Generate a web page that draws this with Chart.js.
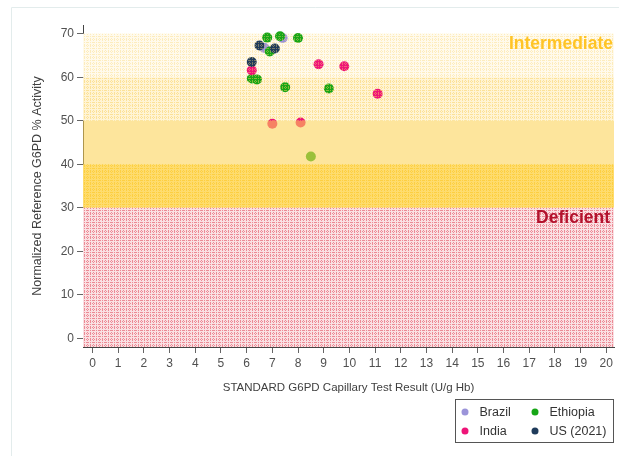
<!DOCTYPE html>
<html>
<head>
<meta charset="utf-8">
<script src="https://cdn.jsdelivr.net/npm/chart.js@4.4.1/dist/chart.umd.min.js"></script>
<style>
  html, body { margin: 0; padding: 0; background: #fff; }
  #wrap { width: 619px; height: 456px; }
</style>
</head>
<body>
<div id="wrap"><canvas id="g6pd" width="619" height="456"></canvas></div>
<script>
// values
const brazilX = [6.7, 7.4];
const brazilY = [66.7, 69.0];
const ethiopiaX = [6.8, 7.3, 8.0, 6.9, 6.2, 6.4, 7.5, 9.2, 8.5];
const ethiopiaY = [69.1, 69.4, 69.0, 65.9, 59.7, 59.5, 57.7, 57.4, 41.8];
const indiaX = [6.2, 8.8, 9.8, 11.1, 7.0, 8.1];
const indiaY = [61.6, 63.0, 62.5, 56.2, 49.3, 49.6];
const usX = [6.5, 7.1, 6.2];
const usY = [67.3, 66.6, 63.5];

const xTicks = [0, 1, 2, 3, 4, 5, 6, 7, 8, 9, 10, 11, 12, 13, 14, 15, 16, 17, 18, 19, 20];
const yTicks = [0, 10, 20, 30, 40, 50, 60, 70];

const pts = (xs, ys) => xs.map((x, i) => ({ x: x, y: ys[i] }));

const ctx = document.getElementById('g6pd').getContext('2d');

// small dot textures for the shaded bands
function dots(color, size, test) {
	const c = document.createElement('canvas');
	c.width = size; c.height = size;
	const g = c.getContext('2d');
	g.fillStyle = color;
	for (let y = 0; y < size; y++) {
		for (let x = 0; x < size; x++) {
			if (test(x, y)) g.fillRect(x, y, 1, 1);
		}
	}
	return ctx.createPattern(c, 'repeat');
}
const grid = (x, y) => (y % 3 === 0 && x % 2 === 0) || (x % 3 === 0 && y % 2 === 0);
const redDots = dots('rgba(222,52,72,0.5)', 6, grid);
const paleDots = dots('rgba(250,214,120,0.4)', 6, grid);
const lightDots = dots('rgba(250,205,90,0.5)', 6, grid);
const goldDots = dots('rgba(252,196,30,0.55)', 6, grid);

const bands = {
	id: 'bands',
	beforeDatasetsDraw(chart) {
		const { ctx, chartArea: a, scales: { y } } = chart;
		const fill = (from, to, style) => {
			const top = y.getPixelForValue(to), bot = y.getPixelForValue(from);
			ctx.fillStyle = style;
			ctx.fillRect(a.left, top, a.right - a.left, bot - top);
		};
		ctx.save();
		fill(60, 70, '#fffaec');
		fill(50, 60, '#fff4d4');
		fill(30, 40, '#fedc6e');
		fill(-2, 30, '#fae0e3');
		ctx.restore();
	},
	afterDatasetsDraw(chart) {
		const { ctx, chartArea: a, scales: { y } } = chart;
		const fill = (from, to, style) => {
			const top = y.getPixelForValue(to), bot = y.getPixelForValue(from);
			ctx.fillStyle = style;
			ctx.fillRect(a.left, top, a.right - a.left, bot - top);
		};
		ctx.save();
		fill(40, 50, 'rgba(252,210,84,0.58)');
		fill(60, 70, paleDots);
		fill(50, 60, lightDots);
		fill(30, 40, goldDots);
		fill(-2, 30, redDots);

		ctx.font = 'bold 17.5px "Liberation Sans", Arial, sans-serif';
		ctx.textAlign = 'right';
		ctx.textBaseline = 'middle';
		ctx.fillStyle = '#ffc426';
		ctx.fillText('Intermediate', a.right - 1, y.getPixelForValue(67.7));
		ctx.fillStyle = '#b3122d';
		ctx.fillText('Deficient', a.right - 4, y.getPixelForValue(27.5));
		ctx.restore();
	}
};

// boxed two-column legend under the axis, plus the faint outer frame
const boxLegend = {
	id: 'boxLegend',
	afterDraw(chart) {
		const { ctx, chartArea: a } = chart;
		const sets = chart.data.datasets;
		const left = a.right - 158.5, top = 399.5;
		ctx.save();
		ctx.strokeStyle = '#e3ecec';
		ctx.lineWidth = 1;
		ctx.beginPath();
		ctx.moveTo(11.5, 456);
		ctx.lineTo(11.5, 7.5);
		ctx.lineTo(619, 7.5);
		ctx.stroke();

		ctx.strokeStyle = '#555';
		ctx.strokeRect(left, top, 158, 43);
		ctx.font = '12.5px "Liberation Sans", Arial, sans-serif';
		ctx.textAlign = 'left';
		ctx.textBaseline = 'middle';
		sets.forEach((ds, i) => {
			const col = i % 2, row = Math.floor(i / 2);
			const mx = left + 9.5 + col * 70;
			const my = top + 12.5 + row * 19;
			ctx.fillStyle = ds.backgroundColor;
			ctx.beginPath();
			ctx.arc(mx, my, 3.5, 0, Math.PI * 2);
			ctx.fill();
			ctx.fillStyle = '#333';
			ctx.fillText(ds.label, mx + 14.5, my + 0.5);
		});
		ctx.restore();
	}
};

const family = '"Liberation Sans", Arial, sans-serif';

new Chart(ctx, {
	type: 'scatter',
	data: {
		datasets: [
			{ label: 'Brazil', data: pts(brazilX, brazilY), backgroundColor: '#9b94d9', borderColor: '#9b94d9', order: 4 },
			{ label: 'Ethiopia', data: pts(ethiopiaX, ethiopiaY), backgroundColor: '#17a617', borderColor: '#17a617', order: 3 },
			{ label: 'India', data: pts(indiaX, indiaY), backgroundColor: '#ee1478', borderColor: '#ee1478', order: 2 },
			{ label: 'US (2021)', data: pts(usX, usY), backgroundColor: '#1f3b5b', borderColor: '#1f3b5b', order: 1 }
		]
	},
	options: {
		responsive: false,
		animation: false,
		devicePixelRatio: 1,
		layout: { padding: { top: 25, right: 3, bottom: 59, left: 30 } },
		elements: { point: { radius: 5, borderWidth: 0, hoverRadius: 5 } },
		plugins: {
			legend: { display: false },
			tooltip: { enabled: false }
		},
		scales: {
			x: {
				type: 'linear',
				min: -0.37,
				max: 20.3,
				afterFit: s => { s.height = 50; },
				afterBuildTicks: s => { s.ticks = xTicks.map(v => ({ value: v })); },
				ticks: { autoSkip: false, maxRotation: 0, color: '#505050', font: { family, size: 12 }, padding: 3 },
				grid: { drawOnChartArea: false, tickLength: 6, color: '#666' },
				border: { color: '#444', width: 1 },
				title: {
					display: true,
					text: 'STANDARD G6PD Capillary Test Result (U/g Hb)',
					color: '#404040',
					font: { family, size: 11.5 },
					padding: { top: 4, bottom: 2 }
				}
			},
			y: {
				type: 'linear',
				min: -2,
				max: 72,
				afterFit: s => { s.width = 53; },
				afterBuildTicks: s => { s.ticks = yTicks.map(v => ({ value: v })); },
				ticks: { color: '#505050', font: { family, size: 12 }, padding: 3 },
				grid: { drawOnChartArea: false, tickLength: 6, color: '#666' },
				border: { color: '#444', width: 1 },
				title: {
					display: true,
					text: 'Normalized Reference G6PD % Activity',
					color: '#404040',
					font: { family, size: 12.5 },
					padding: 0
				}
			}
		}
	},
	plugins: [bands, boxLegend]
});
</script>
</body>
</html>
